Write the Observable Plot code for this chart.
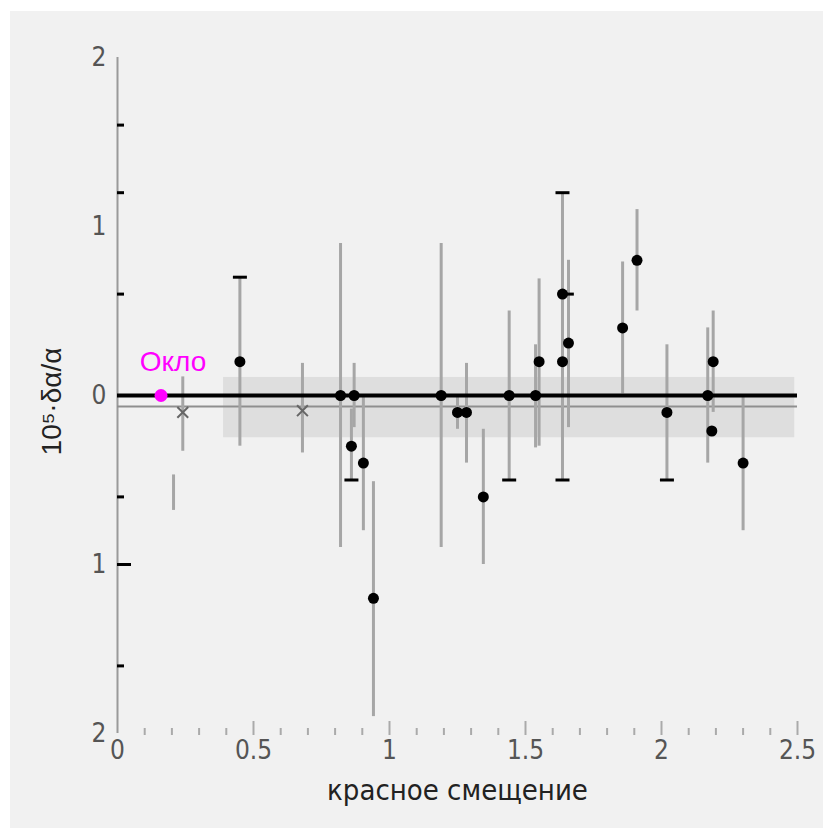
<!DOCTYPE html>
<html>
<head>
<meta charset="utf-8">
<script src="https://cdn.jsdelivr.net/npm/d3@7"></script>
<script src="https://cdn.jsdelivr.net/npm/@observablehq/plot@0.6"></script>
<style>
  html, body { margin: 0; padding: 0; background: #ffffff; }
  #chart { padding: 11px 0 0 10px; }
</style>
</head>
<body>
<div id="chart"></div>
<script>
// ---- data ----
// measurements (black dots): redshift z and 10^5·δα/α
const pointZ = [0.45, 0.82, 0.87, 0.86, 0.904, 0.941, 1.19, 1.25, 1.283, 1.345, 1.44, 1.537, 1.55, 1.636, 1.636, 1.658, 1.857, 1.91, 2.02, 2.17, 2.19, 2.185, 2.30];
const pointY = [0.2, 0, 0, -0.3, -0.4, -1.2, 0, -0.1, -0.1, -0.6, 0, 0, 0.2, 0.6, 0.2, 0.31, 0.4, 0.8, -0.1, 0, 0.2, -0.21, -0.4];

// grey error bars
const errZ    = [0.45, 0.82, 0.87, 0.86, 0.904, 0.941, 1.19, 1.25, 1.283, 1.345, 1.44, 1.537, 1.55, 1.636, 1.658, 1.857, 1.91, 2.02, 2.17, 2.19, 2.30, 0.24, 0.68, 0.206];
const errHigh = [0.70, 0.90, 0.19, -0.08, 0.0, -0.51, 0.90, 0.0, 0.19, -0.2, 0.5, 0.3, 0.69, 1.2, 0.8, 0.79, 1.1, 0.3, 0.4, 0.5, 0.0, 0.11, 0.19, -0.47];
const errLow  = [-0.30, -0.90, -0.19, -0.5, -0.8, -1.9, -0.90, -0.2, -0.4, -1.0, -0.5, -0.31, -0.3, -0.5, -0.19, 0.01, 0.5, -0.5, -0.4, -0.1, -0.8, -0.33, -0.34, -0.68];

// black caps on some error bars
const capZ = [0.45, 0.86, 1.44, 1.636, 1.636, 1.652, 2.02];
const capY = [0.70, -0.5, -0.5, 1.2, -0.5, 0.6, -0.5];

// grey "x" markers
const crossZ = [0.24, 0.68];
const crossY = [-0.1, -0.09];

// Oklo
const okloZ = [0.16];
const okloY = [0];
const okloLabel = ["Окло"];

// reference lines and band
const zeroLineY = [0];
const meanLineY = [-0.065];
const bandX = [0.39, 2.49];
const bandY = [-0.25, 0.107];

// axes
const xDomain = [0, 2.5];
const yDomain = [-2, 2];
const xLabelTicks = [0, 0.5, 1, 1.5, 2, 2.5];
const xMinorTicks = d3.range(0, 26).map(i => i / 10).filter(v => Math.round(v * 10) % 5 !== 0);
const xMajorTicks = [0.5, 1, 1.5, 2, 2.5];
const yLabelTicks = [2, 1, 0, -1, -2];
const yShortTicks = [1.6, 1.2, 0.6, -0.6, -1.6];
const yLongTicks = [-1];
const xTitle = "красное смещение";
const yTitle = "10⁵·δα/α";

// ---- build ----
const points = pointZ.map((z, i) => ({z, y: pointY[i]}));
const errs = errZ.map((z, i) => ({z, lo: errLow[i], hi: errHigh[i]}));
const caps = capZ.map((z, i) => ({z, y: capY[i]}));
const crosses = crossZ.map((z, i) => ({z, y: crossY[i]}));
const oklo = okloZ.map((z, i) => ({z, y: okloY[i], label: okloLabel[i]}));
const band = [{x1: bandX[0], x2: bandX[1], y1: bandY[0], y2: bandY[1]}];

const capSymbol = {
  draw(context, size) {
    const r = Math.sqrt(size / Math.PI);
    context.moveTo(-r, 0);
    context.lineTo(r, 0);
  }
};

const font = "'DejaVu Sans Condensed', 'Liberation Sans', sans-serif";
const plain = "'Liberation Sans', Arial, sans-serif";

const chart = Plot.plot({
  width: 813,
  height: 817,
  marginLeft: 107,
  marginRight: 26,
  marginTop: 46,
  marginBottom: 95,
  style: {background: "#f1f1f1", fontFamily: font, fontSize: "26px"},
  x: {domain: xDomain, axis: null},
  y: {domain: yDomain, axis: null},
  marks: [
    Plot.rect(band, {x1: "x1", x2: "x2", y1: "y1", y2: "y2", fill: "#dedede"}),
    Plot.ruleX([0], {stroke: "#9a9a9a", strokeWidth: 2}),
    Plot.ruleY(meanLineY, {x1: xDomain[0], x2: xDomain[1], stroke: "#8f8f8f", strokeWidth: 2}),
    Plot.ruleX(errs, {x: "z", y1: "lo", y2: "hi", stroke: "#a6a6a6", strokeWidth: 3}),
    Plot.ruleY(zeroLineY, {x1: xDomain[0], x2: xDomain[1], stroke: "#000", strokeWidth: 4}),
    Plot.dot(caps, {x: "z", y: "y", symbol: capSymbol, r: 7, stroke: "#000", strokeWidth: 3}),
    Plot.dot(crosses, {x: "z", y: "y", symbol: "times", r: 5, stroke: "#666", strokeWidth: 2}),
    Plot.dot(points, {x: "z", y: "y", r: 5.5, fill: "#000"}),
    Plot.dot(oklo, {x: "z", y: "y", r: 6.5, fill: "#ff00ff"}),
    Plot.text(oklo, {x: "z", y: "y", text: "label", dx: 12, dy: -33, fill: "#ff00ff", fontSize: 28, fontFamily: plain}),
    // y axis ticks (inside) and labels
    Plot.axisY(yShortTicks, {tickSize: 7, dx: 7, stroke: "#000", strokeWidth: 3, fill: "none", label: null}),
    Plot.axisY(yLongTicks, {tickSize: 14, dx: 14, stroke: "#000", strokeWidth: 3, fill: "none", label: null}),
    Plot.axisY(yLabelTicks, {tickSize: 0, tickPadding: 11, tickFormat: d => String(Math.abs(d)), fill: "#555", fontSize: 26, label: null}),
    // x axis ticks (inside) and labels
    Plot.axisX(xMinorTicks, {tickSize: 7, dy: -5, stroke: "#aaa", strokeWidth: 2, fill: "none", label: null}),
    Plot.axisX(xMajorTicks, {tickSize: 14, dy: -12, stroke: "#aaa", strokeWidth: 2, fill: "none", label: null}),
    Plot.axisX(xLabelTicks, {tickSize: 0, tickPadding: 7, tickFormat: d => String(d), fill: "#555", fontSize: 26, label: null}),
    // titles
    Plot.text([xTitle], {frameAnchor: "bottom", dy: 66, fill: "#222", fontSize: 29}),
    Plot.text([yTitle], {frameAnchor: "left", textAnchor: "middle", rotate: -90, dx: -65, dy: 6, fill: "#222", fontSize: 28, fontFamily: plain})
  ]
});

document.getElementById("chart").appendChild(chart);
</script>
</body>
</html>
